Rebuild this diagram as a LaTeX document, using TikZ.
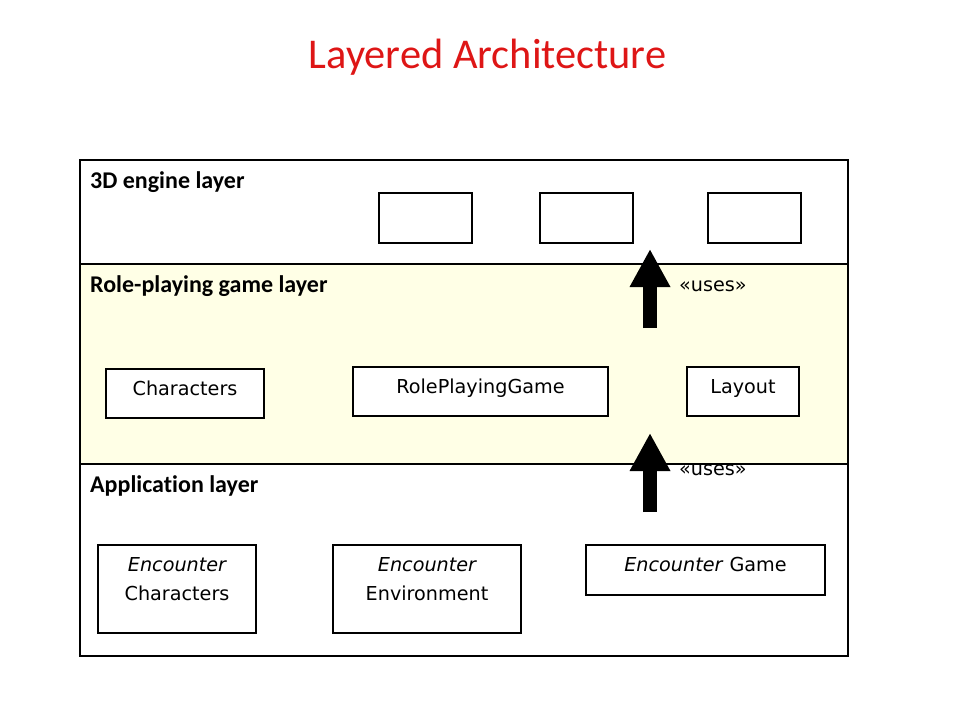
\documentclass[tikz,border=0pt]{standalone}
\usepackage{fontspec}
\setmainfont{Carlito}[Ligatures=NoCommon]
\newfontfamily\boxfont{DejaVu Sans}
\usetikzlibrary{arrows.meta,calc}
\definecolor{titlered}{RGB}{222,22,22}
\definecolor{bandyellow}{RGB}{255,255,230}
\tikzset{
  frame/.style={draw=black, line width=2pt},
  box/.style={draw=black, line width=2pt, fill=white, anchor=north west, inner sep=0pt},
  boxtext/.style={font=\boxfont\fontsize{19.2}{29}\selectfont, anchor=base, inner sep=0pt, align=center},
  layerlabel/.style={font=\fontsize{24}{26}\selectfont\bfseries, anchor=base west, inner sep=0pt},
  usesarrow/.style={line width=14pt, -{Triangle[length=38pt, width=38pt]}},
}
\begin{document}
\begin{tikzpicture}[x=1pt, y=-1pt]
\useasboundingbox (0,0) rectangle (960,720);
% title
\node[font=\fontsize{42.4}{48}\selectfont, text=titlered, anchor=base, inner sep=0pt] (title) at (487.5,68) {Layered Architecture};
% layers
\fill[bandyellow] (80,264) rectangle (848,464);
\draw[frame] (80,160) rectangle (848,656);
\draw[frame] (80,264) -- (848,264);
\draw[frame] (80,464) -- (848,464);
\node[layerlabel] (l3d) at (90,188) {3D engine layer};
\node[layerlabel] (lrpg) at (90,292) {Role-playing game layer};
\node[layerlabel] (lapp) at (90,492) {Application layer};
% 3D engine boxes
\node[box, minimum width=93pt, minimum height=50pt] (e1) at (378,192) {};
\node[box, minimum width=93pt, minimum height=50pt] (e2) at (539,192) {};
\node[box, minimum width=93pt, minimum height=50pt] (e3) at (707,192) {};
% role-playing boxes
\node[box, minimum width=158pt, minimum height=49pt] (chars) at (105,368) {};
\node[boxtext] at ($(chars.north)+(0,27)$) {Characters};
\node[box, minimum width=255pt, minimum height=49pt] (rpg) at (352,366) {};
\node[boxtext] at ($(rpg.north)+(0,27)$) {RolePlayingGame};
\node[box, minimum width=112pt, minimum height=49pt] (layout) at (686,366) {};
\node[boxtext] at ($(layout.north)+(0,27)$) {Layout};
% application boxes
\node[box, minimum width=158pt, minimum height=88pt] (ec) at (97,544) {};
\node[boxtext] at ($(ec.north)+(0,56)$) {\itshape Encounter\\Characters};
\node[box, minimum width=188pt, minimum height=88pt] (ee) at (332,544) {};
\node[boxtext] at ($(ee.north)+(0,56)$) {\itshape Encounter\\Environment};
\node[box, minimum width=239pt, minimum height=50pt] (eg) at (585,544) {};
\node[boxtext] at ($(eg.north)+(0,27)$) {\textit{Encounter} Game};
% arrows
\coordinate (a1s) at (650,328);
\coordinate (a1e) at (650,249);
\coordinate (a2s) at (650,512);
\coordinate (a2e) at (650,433);
\draw[usesarrow] (a1s) -- (a1e);
\draw[usesarrow] (a2s) -- (a2e);
\node[boxtext, anchor=base west] (u1) at (679,291) {«uses»};
\node[boxtext, anchor=base west] (u2) at (679,475) {«uses»};
\end{tikzpicture}
\end{document}
